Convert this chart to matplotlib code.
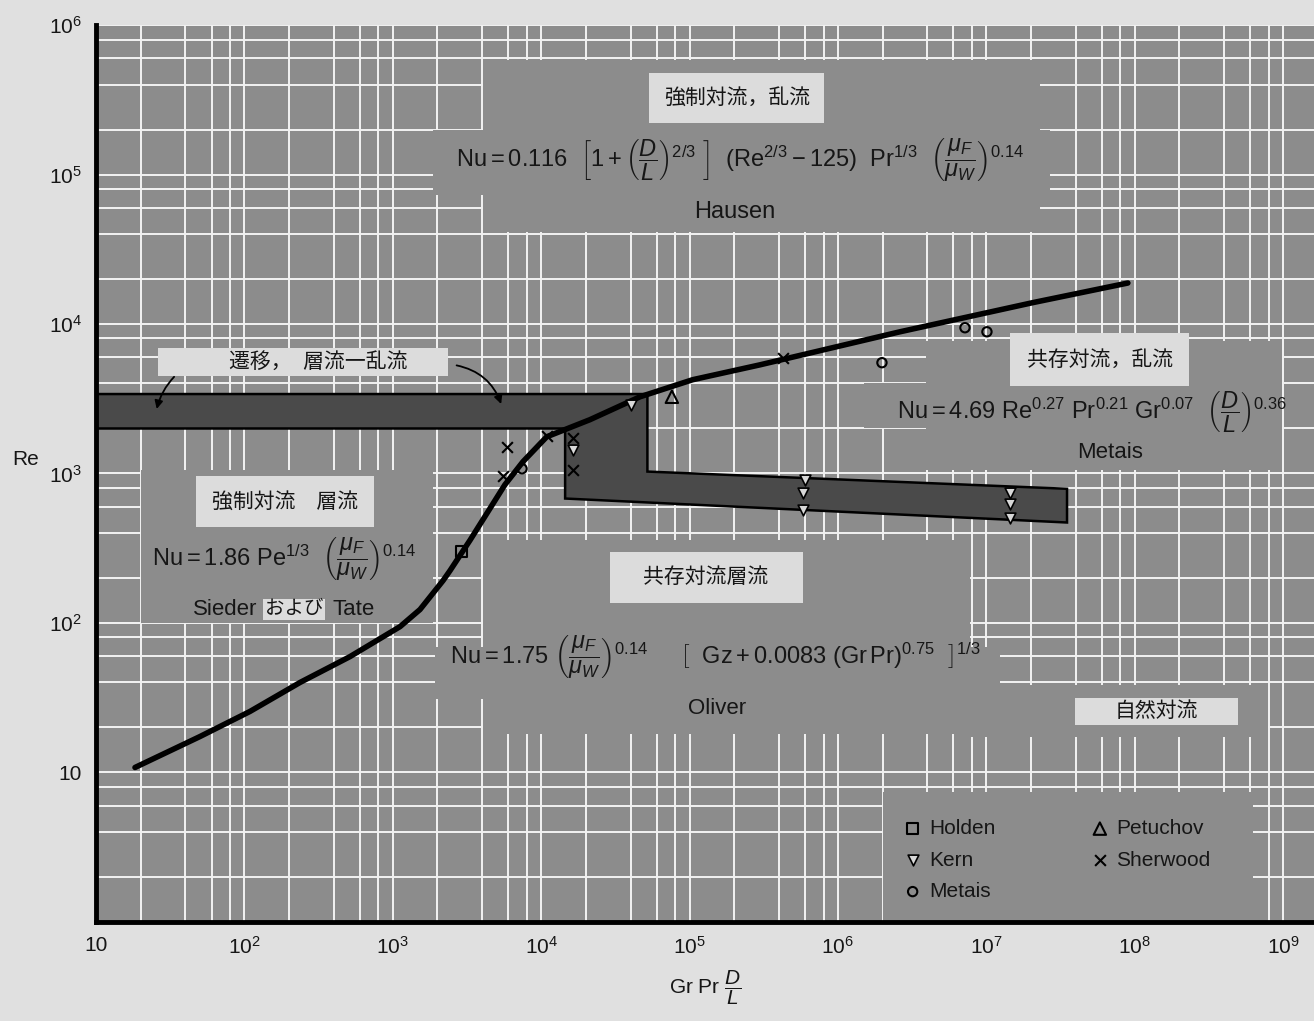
import matplotlib
matplotlib.use('Agg')
import matplotlib.pyplot as plt
from matplotlib.patches import Rectangle, Polygon
from matplotlib.ticker import LogLocator, NullFormatter

# フォント設定 (Latin -> Liberation, CJK -> Noto)
plt.rcParams['font.family'] = ['Liberation Sans', 'Noto Sans CJK JP']
plt.rcParams['mathtext.fontset'] = 'custom'
plt.rcParams['mathtext.rm'] = 'Liberation Sans'
plt.rcParams['mathtext.it'] = 'Liberation Sans:italic'
plt.rcParams['mathtext.bf'] = 'Liberation Sans:bold'
plt.rcParams['mathtext.sf'] = 'Liberation Sans'

# --- data ---
# boundary curve between forced / mixed convection
curve_x = [18.3, 50.2, 109, 237, 515, 1120, 1525, 2180, 2430, 3310, 5700, 7540,
           10900, 21300, 46400, 1.05e5, 2.98e5, 2.62e6, 2.06e7, 9.0e7]
curve_re = [10.8, 17.4, 25.6, 40, 59.6, 94.6, 123, 192, 224, 357, 842, 1200,
            1760, 2290, 3260, 4240, 5330, 8870, 13900, 18800]

# transition band (laminar -> turbulent), outline vertices
band_x = [10, 5.2e4, 5.2e4, 3.5e7, 3.5e7, 1.45e4, 1.45e4, 10]
band_re = [3400, 3400, 1030, 790, 470, 680, 2000, 2000]

# experimental points
holden_x = [2900]
holden_re = [300]
kern_x = [4.03e4, 1.64e4, 6.0e5, 5.8e5, 5.8e5, 1.44e7, 1.44e7, 1.44e7]
kern_re = [2880, 1440, 910, 745, 573, 745, 628, 507]
metais_x = [7430, 1.98e6, 7.18e6, 1.01e7]
metais_re = [1076, 5510, 9440, 8870]
petuchov_x = [7.6e4]
petuchov_re = [3260]
sherwood_x = [5890, 5540, 10940, 16370, 16370, 4.26e5]
sherwood_re = [1510, 966, 1790, 1735, 1060, 5940]

xtick_vals = [1e1, 1e2, 1e3, 1e4, 1e5, 1e6, 1e7, 1e8, 1e9]
xtick_labels = ['10', '10$^2$', '10$^3$', '10$^4$', '10$^5$', '10$^6$', '10$^7$', '10$^8$', '10$^9$']
ytick_vals = [1e1, 1e2, 1e3, 1e4, 1e5, 1e6]
ytick_labels = ['10', '10$^2$', '10$^3$', '10$^4$', '10$^5$', '10$^6$']

# colours
paper = '#e0e0e0'
halftone = '#8c8c8c'
band_col = '#4a4a4a'
box_col = '#dcdcdc'
ink = '#161616'

fig = plt.figure(figsize=(13.14, 10.21), dpi=100, facecolor=paper)
ax = fig.add_axes([0.0731, 0.097, 0.927, 0.8785])
ax.set_facecolor(halftone)
ax.set_xscale('log')
ax.set_yscale('log')
ax.set_xlim(10, 1.62e9)
ax.set_ylim(1, 1e6)

# grid
ax.set_axisbelow(True)
ax.xaxis.set_minor_locator(LogLocator(base=10, subs=(2, 4, 6, 8)))
ax.yaxis.set_minor_locator(LogLocator(base=10, subs=(2, 4, 6, 8)))
ax.xaxis.set_minor_formatter(NullFormatter())
ax.yaxis.set_minor_formatter(NullFormatter())
ax.grid(True, which='both', color='#f2f2f2', lw=1.4)

# regions where the grid paper is blanked out
covers = [
    (4060, 2.3e7, 4.1e4, 5.8e5),     # Hausen
    (1870, 2.7e7, 7.3e4, 2.0e5),
    (20, 1870, 100, 1060),           # Sieder-Tate
    (4060, 7.8e6, 18, 361),          # Oliver
    (1920, 1.24e7, 31, 69.5),
    (3.9e6, 9.8e8, 1060, 7700),      # Metais
    (1.5e6, 9.8e8, 2000, 4000),
    (7.8e6, 7.9e8, 17.4, 38.7),      # natural convection
    (2.0e6, 6.3e8, 1, 7.35),         # legend
]
for x0, x1, y0, y1 in covers:
    ax.add_patch(Rectangle((x0, y0), x1 - x0, y1 - y0, facecolor=halftone,
                           edgecolor='none', zorder=1))

# transition band
ax.add_patch(Polygon(list(zip(band_x, band_re)), closed=True, facecolor=band_col,
                     edgecolor='black', lw=1.8, zorder=2))

# boundary curve
ax.plot(curve_x, curve_re, color='black', lw=4, solid_capstyle='round',
        solid_joinstyle='round', zorder=3)

# data points
ax.scatter(holden_x, holden_re, marker='s', s=60, facecolor='none', edgecolor='black',
           lw=1.5, zorder=4, label='Holden')
ax.scatter(kern_x, kern_re, marker='v', s=60, facecolor='#d8d8d8', edgecolor='black',
           lw=1.2, zorder=4, label='Kern')
ax.scatter(metais_x, metais_re, marker='o', s=45, facecolor='none', edgecolor='black',
           lw=1.5, zorder=4, label='Metais')
ax.scatter(petuchov_x, petuchov_re, marker='^', s=80, facecolor='none', edgecolor='black',
           lw=1.5, zorder=4, label='Petuchov')
ax.scatter(sherwood_x, sherwood_re, marker='x', s=60, color='black', lw=1.5, zorder=4,
           label='Sherwood')

leg = ax.legend(loc='upper left', bbox_to_anchor=(0.655, 0.124), ncol=2, frameon=False,
                fontsize=15, handletextpad=0.3, columnspacing=4.5, labelspacing=0.6,
                handlelength=1.0, borderaxespad=0)
for t in leg.get_texts():
    t.set_color(ink)

# regime labels
def label_box(x, y, s, fs=15, pad=0.55):
    ax.text(x, y, s, fontsize=fs, color=ink, ha='center', va='center', zorder=6,
            bbox=dict(boxstyle=f'square,pad={pad}', facecolor=box_col, edgecolor='none'))

def label_rect(x0, x1, y0, y1, x, y, s, fs=15):
    ax.add_patch(Rectangle((x0, y0), x1 - x0, y1 - y0, facecolor=box_col,
                           edgecolor='none', zorder=5))
    ax.text(x, y, s, fontsize=fs, color=ink, ha='center', va='center', zorder=6)

label_box(2.08e5, 3.25e5, '強制対流，乱流', pad=0.7)
label_rect(26.2, 2355, 4510, 6930, 313, 5590, '遷移，  層流一乱流')
label_box(188, 647, '強制対流　層流', pad=0.75)
label_box(5.8e7, 5770, '共存対流，乱流', pad=0.8)
label_rect(2.91e4, 5.81e5, 137, 300, 1.29e5, 204, '共存対流層流')
label_rect(3.95e7, 4.95e8, 20.9, 31.7, 1.39e8, 25.6, '自然対流')

# correlations
fkw = dict(fontsize=17, color=ink, zorder=6)
ax.text(2.19e5, 1.25e5,
        r'$\mathrm{Nu} = 0.116\ \ \left[1 + \left(\dfrac{D}{L}\right)^{2/3}\ \right]\ \ '
        r'(\mathrm{Re}^{2/3} - 125)\ \ \mathrm{Pr}^{1/3}\ \ \left(\dfrac{\mu_F}{\mu_W}\right)^{0.14}$',
        ha='center', va='center', **fkw)
ax.text(2.02e5, 5.6e4, 'Hausen', ha='center', va='center', **fkw)

ax.text(23.8, 265, r'$\mathrm{Nu} = 1.86\ \mathrm{Pe}^{1/3}\ \ \left(\dfrac{\mu_F}{\mu_W}\right)^{0.14}$',
        ha='left', va='center', **fkw)
ax.text(122, 123, 'Sieder', ha='right', va='center', fontsize=16, color=ink, zorder=6)
ax.text(216, 123, 'および', ha='center', va='center', fontsize=14, color=ink, zorder=6,
        bbox=dict(boxstyle='square,pad=0.1', facecolor=box_col, edgecolor='none'))
ax.text(395, 123, 'Tate', ha='left', va='center', fontsize=16, color=ink, zorder=6)

ax.text(2430, 58.7,
        r'$\mathrm{Nu} = 1.75\ \left(\dfrac{\mu_F}{\mu_W}\right)^{0.14}\ \ \ \ \ '
        r'\left[\ \ \mathrm{Gz} + 0.0083\ (\mathrm{Gr\,Pr})^{0.75}\ \ \right]^{1/3}$',
        ha='left', va='center', **fkw)
ax.text(1.53e5, 26.8, 'Oliver', ha='center', va='center', fontsize=16, color=ink, zorder=6)

ax.text(2.5e6, 2550,
        r'$\mathrm{Nu} = 4.69\ \mathrm{Re}^{0.27}\ \mathrm{Pr}^{0.21}\ \mathrm{Gr}^{0.07}\ \ '
        r'\left(\dfrac{D}{L}\right)^{0.36}$',
        ha='left', va='center', **fkw)
ax.text(6.8e7, 1380, 'Metais', ha='center', va='center', fontsize=16, color=ink, zorder=6)

# arrows from the transition label to the band
arw = dict(arrowstyle='-|>', color='black', lw=1.3, mutation_scale=12)
ax.annotate('', xy=(25.4, 2590), xytext=(34.6, 4570),
            arrowprops=dict(connectionstyle='arc3,rad=0.15', **arw), zorder=7)
ax.annotate('', xy=(5450, 2800), xytext=(2580, 5330),
            arrowprops=dict(connectionstyle='arc3,rad=-0.3', **arw), zorder=7)

# axes styling
for side in ['top', 'right']:
    ax.spines[side].set_visible(False)
for side in ['left', 'bottom']:
    ax.spines[side].set_linewidth(3.5)
    ax.spines[side].set_color('black')
ax.set_xticks(xtick_vals)
ax.set_xticklabels(xtick_labels)
ax.set_yticks(ytick_vals)
ax.set_yticklabels(ytick_labels)
ax.tick_params(which='both', length=0)
ax.tick_params(axis='x', labelsize=15, pad=10, colors=ink)
ax.tick_params(axis='y', labelsize=15, pad=10, colors=ink)

ax.set_xlabel(r'Gr Pr $\dfrac{D}{L}$', fontsize=15, color=ink, labelpad=8)
ax.set_ylabel('Re', fontsize=15, color=ink, rotation=0, va='center', ha='center')
ax.yaxis.set_label_coords(-0.058, 0.516)

fig.savefig('out.png', dpi=100, facecolor=paper)
